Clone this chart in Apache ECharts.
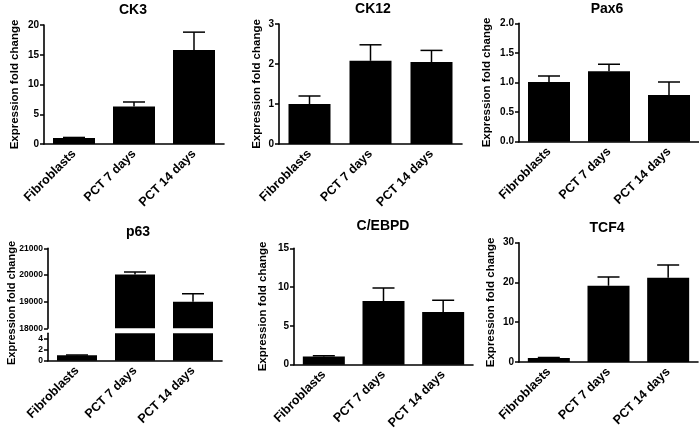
<!DOCTYPE html>
<html>
<head>
<meta charset="utf-8">
<script src="https://cdn.jsdelivr.net/npm/echarts@6/dist/echarts.min.js"></script>
<style>html,body{margin:0;padding:0;background:#fff;}#c{width:699px;height:432px;}</style>
</head>
<body>
<div id="c"></div>
<script>
const categories = ['Fibroblasts', 'PCT 7 days', 'PCT 14 days'];
const titles = ['CK3', 'CK12', 'Pax6', 'p63', 'C/EBPD', 'TCF4'];
const yTitle = 'Expression fold change';

const ck3Mean = [1.0, 6.3, 15.8];
const ck3Err = [0.1, 0.76, 3.0];
const ck12Mean = [1.0, 2.08, 2.05];
const ck12Err = [0.2, 0.4, 0.29];
const pax6Mean = [1.01, 1.19, 0.79];
const pax6Err = [0.1, 0.12, 0.22];
const p63Mean = [1.0, 20020, 19000];
const p63Err = [0.05, 90, 300];
const cebpdMean = [1.05, 8.2, 6.8];
const cebpdErr = [0.12, 1.7, 1.5];
const tcf4Mean = [1.0, 19.2, 21.2];
const tcf4Err = [0.15, 2.2, 3.2];

const ck3Ticks = { min: 0, max: 20, interval: 5 };
const ck12Ticks = { min: 0, max: 3, interval: 1 };
const pax6Ticks = { min: 0, max: 2, interval: 0.5 };
const p63UpperTicks = { min: 18000, max: 21000, interval: 1000 };
const p63LowerTicks = { min: 0, max: 5, interval: 2 };
const cebpdTicks = { min: 0, max: 15, interval: 5 };
const tcf4Ticks = { min: 0, max: 30, interval: 10 };

const FONT = 'Liberation Sans, Arial, sans-serif';
const chart = echarts.init(document.getElementById('c'), null, { renderer: 'canvas' });

const grids = [], xAxes = [], yAxes = [], series = [], graphics = [];

function addPanel(g, ticks, means, errs, opts) {
  const gi = grids.length;
  grids.push({ left: g.left, top: g.top, width: g.width, height: g.height, containLabel: false });
  xAxes.push({
    type: 'category', gridIndex: gi, data: categories, show: opts.showX !== false,
    axisLine: { lineStyle: { color: '#000', width: 1.6 } },
    axisTick: { alignWithLabel: true, length: 4, lineStyle: { color: '#000', width: 1.5 } },
    axisLabel: { rotate: 45, margin: 8, color: '#000', fontFamily: FONT, fontWeight: 'bold', fontSize: 12.5, interval: 0 }
  });
  const y = {
    type: 'value', gridIndex: gi, min: ticks.min, max: ticks.max, interval: ticks.interval,
    splitLine: { show: false },
    axisLine: { show: true, lineStyle: { color: '#000', width: 1.6 } },
    axisTick: { show: true, length: 4, lineStyle: { color: '#000', width: 1.5 } },
    axisLabel: { margin: 5, color: '#000', fontFamily: FONT, fontWeight: 'bold', fontSize: opts.tickFont || 10,
      showMaxLabel: opts.showMaxLabel !== false,
      formatter: function (v) { return opts.decimals ? v.toFixed(opts.decimals) : String(v); } }
  };
  if (opts.name) {
    Object.assign(y, { name: yTitle, nameLocation: 'middle', nameGap: opts.nameGap || 25,
      nameTextStyle: { color: '#000', fontFamily: FONT, fontWeight: 'bold', fontSize: 11.5 } });
  }
  yAxes.push(y);
  series.push({
    type: 'bar', xAxisIndex: gi, yAxisIndex: gi, data: means, barWidth: opts.barWidth || 42,
    clip: true, itemStyle: { color: '#000' }, silent: true, animation: false
  });
  series.push({
    type: 'custom', xAxisIndex: gi, yAxisIndex: gi, clip: true, animation: false, z: 3,
    data: means.map((m, i) => [i, m, m + errs[i]]),
    encode: { x: 0, y: [1, 2] },
    renderItem: function (params, api) {
      const xv = api.value(0);
      const base = api.coord([xv, api.value(1)]);
      const top = api.coord([xv, api.value(2)]);
      const hw = 11;
      return { type: 'group', children: [
        { type: 'line', shape: { x1: base[0], y1: base[1], x2: top[0], y2: top[1] }, style: { stroke: '#000', lineWidth: 1.5 } },
        { type: 'line', shape: { x1: top[0] - hw, y1: top[1], x2: top[0] + hw, y2: top[1] }, style: { stroke: '#000', lineWidth: 1.5 } }
      ] };
    }
  });
}

function addTitle(text, cx, cy) {
  graphics.push({ type: 'text', x: cx, y: cy, style: { text: text, align: 'center', verticalAlign: 'middle',
    font: 'bold 14px ' + FONT, fill: '#000' } });
}

// Row 1
addPanel({ left: 44, top: 25, width: 180, height: 119 }, ck3Ticks, ck3Mean, ck3Err, { name: true, nameGap: 23 });
addPanel({ left: 279, top: 24, width: 183, height: 120 }, ck12Ticks, ck12Mean, ck12Err, { name: true, nameGap: 16 });
addPanel({ left: 519, top: 23.3, width: 180, height: 118.4 }, pax6Ticks, pax6Mean, pax6Err, { name: true, nameGap: 26, decimals: 1 });
// Row 2: p63 with broken axis (two stacked grids)
addPanel({ left: 48, top: 248.3, width: 174, height: 80 }, p63UpperTicks, p63Mean, p63Err, { showX: false, tickFont: 8.5, barWidth: 40 });
addPanel({ left: 48, top: 333.3, width: 174, height: 27.4 }, p63LowerTicks, p63Mean, p63Err, { tickFont: 8.5, barWidth: 40, showMaxLabel: false });
addPanel({ left: 294, top: 248.3, width: 179, height: 119.4 }, cebpdTicks, cebpdMean, cebpdErr, { name: true, nameGap: 25 });
addPanel({ left: 519, top: 242.7, width: 179, height: 119.3 }, tcf4Ticks, tcf4Mean, tcf4Err, { name: true, nameGap: 22 });

addTitle(titles[0], 133, 10);
addTitle(titles[1], 373, 9);
addTitle(titles[2], 607, 9);
addTitle(titles[3], 138, 232);
addTitle(titles[4], 383, 226);
addTitle(titles[5], 607, 228);

graphics.push({ type: 'text', x: 12, y: 303, rotation: Math.PI / 2,
  style: { text: yTitle, align: 'center', verticalAlign: 'middle', font: 'bold 11px ' + FONT, fill: '#000' } });

chart.setOption({
  backgroundColor: '#fff',
  animation: false,
  grid: grids,
  xAxis: xAxes,
  yAxis: yAxes,
  series: series,
  graphic: graphics
});
</script>
</body>
</html>
